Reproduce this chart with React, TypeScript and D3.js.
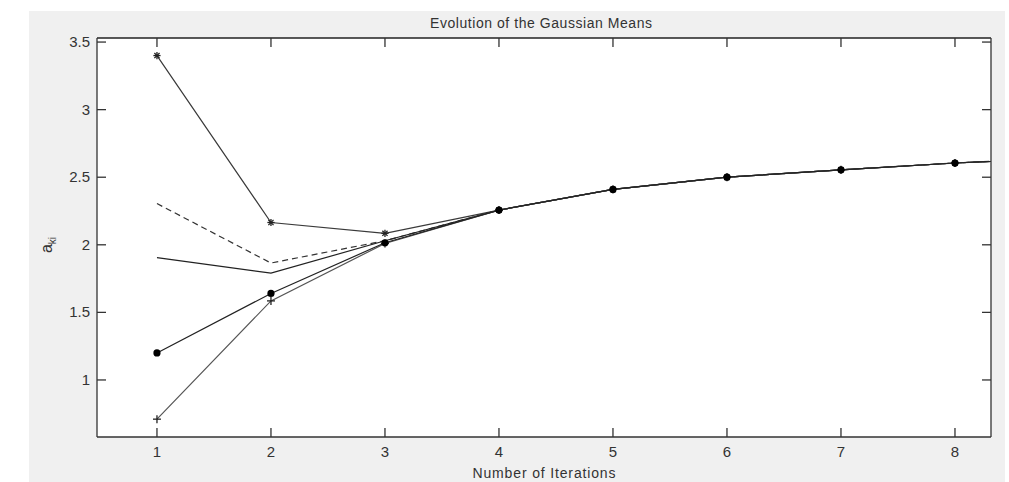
import React from "react";
import * as d3 from "d3";

const iterations = [1, 2, 3, 4, 5, 6, 7, 8, 9];
const seriesStar = [3.40, 2.165, 2.085, 2.257, 2.41, 2.50, 2.555, 2.605, 2.645];
const seriesDashed = [2.305, 1.865, 2.03, 2.257, 2.41, 2.50, 2.555, 2.605, 2.645];
const seriesSolid = [1.905, 1.79, 2.03, 2.257, 2.41, 2.50, 2.555, 2.605, 2.645];
const seriesPlus = [0.71, 1.585, 2.01, 2.257, 2.41, 2.50, 2.555, 2.605, 2.645];
const seriesDot = [1.20, 1.64, 2.015, 2.257, 2.41, 2.50, 2.555, 2.605, 2.645];
const xTicks = [1, 2, 3, 4, 5, 6, 7, 8];
const yTicks = [1, 1.5, 2, 2.5, 3, 3.5];

const W = 1009;
const H = 482;
const L = 97, R = 991, T = 38, B = 437;

export default function App() {
  const x = d3.scaleLinear().domain([0.474, 8.316]).range([L, R]);
  const y = d3.scaleLinear().domain([0.578, 3.53]).range([B, T]);
  const line = d3
    .line<number>()
    .x((_, i) => x(iterations[i]))
    .y((d) => y(d));

  const series = [
    { vals: seriesStar, stroke: "#3a3a3a", dash: undefined, marker: "star" },
    { vals: seriesDashed, stroke: "#333", dash: "6 4", marker: "none" },
    { vals: seriesSolid, stroke: "#222", dash: undefined, marker: "none" },
    { vals: seriesPlus, stroke: "#555", dash: undefined, marker: "plus" },
    { vals: seriesDot, stroke: "#222", dash: undefined, marker: "dot" },
  ];

  const font = "Arial, 'Liberation Sans', sans-serif";
  const tickLen = 9;

  const marker = (kind: string, cx: number, cy: number, key: string) => {
    if (kind === "dot") return <circle key={key} cx={cx} cy={cy} r={3.6} fill="#000" />;
    if (kind === "plus") {
      const s = 4;
      return (
        <g key={key} stroke="#222" strokeWidth={1.3}>
          <line x1={cx - s} y1={cy} x2={cx + s} y2={cy} />
          <line x1={cx} y1={cy - s} x2={cx} y2={cy + s} />
        </g>
      );
    }
    if (kind === "star") {
      const s = 3.6;
      const d = s * 0.72;
      return (
        <g key={key} stroke="#222" strokeWidth={1.3}>
          <line x1={cx - s} y1={cy} x2={cx + s} y2={cy} />
          <line x1={cx} y1={cy - s} x2={cx} y2={cy + s} />
          <line x1={cx - d} y1={cy - d} x2={cx + d} y2={cy + d} />
          <line x1={cx - d} y1={cy + d} x2={cx + d} y2={cy - d} />
        </g>
      );
    }
    return null;
  };

  return (
    <svg
      width={W}
      height={H}
      style={{ position: "absolute", left: 0, top: 0, display: "block" }}
      fontFamily={font}
    >
      <rect x={0} y={0} width={W} height={H} fill="#fff" />
      <rect x={29} y={11} width={976} height={H - 11} fill="#f0f0f0" />
      <rect x={L} y={T} width={R - L} height={B - T} fill="#fff" />
      <defs>
        <clipPath id="plotclip">
          <rect x={L} y={T} width={R - L} height={B - T} />
        </clipPath>
      </defs>

      <g clipPath="url(#plotclip)">
        {series.map((s, si) => (
          <path
            key={"l" + si}
            d={line(s.vals) || ""}
            fill="none"
            stroke={s.stroke}
            strokeWidth={1.2}
            strokeDasharray={s.dash}
          />
        ))}
        {series.map((s, si) =>
          s.vals.map((v, i) => marker(s.marker, x(iterations[i]), y(v), `m${si}-${i}`))
        )}
      </g>

      {/* axes box */}
      <g stroke="#333" strokeWidth={1.3} fill="none">
        <line x1={L} y1={T} x2={R} y2={T} stroke="#222" strokeWidth={1.6} />
        <line x1={L} y1={B} x2={R} y2={B} />
        <line x1={L} y1={T} x2={L} y2={B} />
        <line x1={R} y1={T} x2={R} y2={B} />
        {xTicks.map((t) => (
          <g key={"xt" + t}>
            <line x1={x(t)} y1={B} x2={x(t)} y2={B - tickLen} />
            <line x1={x(t)} y1={T} x2={x(t)} y2={T + tickLen} />
          </g>
        ))}
        {yTicks.map((t) => (
          <g key={"yt" + t}>
            <line x1={L} y1={y(t)} x2={L + tickLen} y2={y(t)} />
            <line x1={R} y1={y(t)} x2={R - tickLen} y2={y(t)} />
          </g>
        ))}
      </g>

      {xTicks.map((t) => (
        <text
          key={"xl" + t}
          x={x(t)}
          y={B + 20}
          textAnchor="middle"
          fontSize={15}
          fill="#333"
        >
          {t}
        </text>
      ))}
      {yTicks.map((t) => (
        <text
          key={"yl" + t}
          x={L - 7}
          y={y(t) + 5}
          textAnchor="end"
          fontSize={15}
          fill="#333"
        >
          {d3.format("")(t)}
        </text>
      ))}

      <text
        x={541}
        y={28}
        textAnchor="middle"
        fontSize={14}
        fill="#333"
        textLength={222}
        lengthAdjust="spacing"
      >
        Evolution of the Gaussian Means
      </text>
      <text
        x={544}
        y={478}
        textAnchor="middle"
        fontSize={14}
        fill="#333"
        textLength={143}
        lengthAdjust="spacing"
      >
        Number of Iterations
      </text>
      <g transform="translate(52,245) rotate(-90)">
        <text textAnchor="middle" fontSize={16} fill="#333">
          a
          <tspan fontSize={10} dy={4}>
            ki
          </tspan>
        </text>
      </g>
    </svg>
  );
}
